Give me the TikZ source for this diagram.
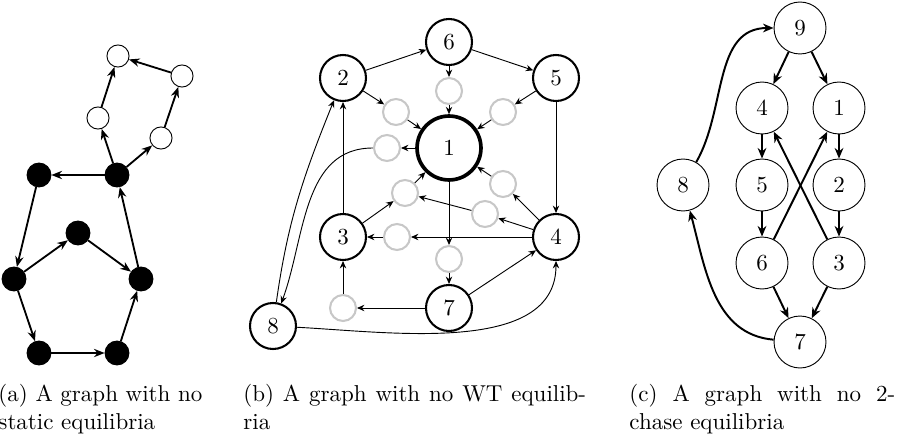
\documentclass[tikz,border=0pt]{standalone}
\usepackage{tikz}
\usetikzlibrary{arrows.meta, positioning}
\tikzset{
  blackdot/.style={circle, draw=black, fill=black, minimum size=10.4pt, inner sep=0pt},
  whitedot/.style={circle, draw=black, fill=white, line width=0.4pt, minimum size=9.6pt, inner sep=0pt},
  aedge/.style={-{Stealth[length=4.6pt,width=3.6pt]}, line width=0.8pt},
  bnode/.style={circle, draw=black, line width=0.9pt, minimum size=20pt, inner sep=0pt},
  bbig/.style={bnode, line width=1.6pt, minimum size=27.8pt},
  ghost/.style={circle, draw=black!22, line width=0.9pt, minimum size=11.3pt, inner sep=0pt},
  bedge/.style={-{Stealth[length=3.2pt,width=2.8pt]}, line width=0.4pt},
  cnode/.style={circle, draw=black, line width=0.4pt, minimum size=22.6pt, inner sep=0pt},
  cedge/.style={-{Stealth[length=4.6pt,width=3.8pt]}, line width=0.85pt},
  capt/.style={anchor=north west, inner sep=0pt, align=justify},
}
\begin{document}
\begin{tikzpicture}[x=0.4348pt, y=0.4348pt]
  \useasboundingbox (0,0) rectangle (901,-438);

  % (a)
  \node[whitedot] (w1) at (118,-56) {};
  \node[whitedot] (w2) at (182,-76) {};
  \node[whitedot] (w3) at (98,-118) {};
  \node[whitedot] (w4) at (161,-138) {};
  \node[blackdot] (k1) at (117,-175) {};
  \node[blackdot] (k2) at (39,-175) {};
  \node[blackdot] (k3) at (78,-233) {};
  \node[blackdot] (k4) at (14,-279) {};
  \node[blackdot] (k5) at (141,-279) {};
  \node[blackdot] (k6) at (39,-353) {};
  \node[blackdot] (k7) at (117,-353) {};
  \foreach \s/\t in {k1/k2, k2/k4, k4/k3, k3/k5, k4/k6, k6/k7, k7/k5, k5/k1,
                     k1/w3, k1/w4, w3/w1, w4/w2, w2/w1}
    \draw[aedge] (\s) -- (\t);

  % (b)
  \node[bnode] (n6) at (449,-42) {6};
  \node[bnode] (n2) at (343,-78) {2};
  \node[bnode] (n5) at (556,-78) {5};
  \node[bbig]  (n1) at (449,-148) {1};
  \node[bnode] (n3) at (343,-237) {3};
  \node[bnode] (n4) at (556,-237) {4};
  \node[bnode] (n7) at (449,-308) {7};
  \node[bnode] (n8) at (273,-326) {8};
  \node[ghost] (g6) at (449,-91) {};
  \node[ghost] (g2) at (396,-112) {};
  \node[ghost] (g5) at (503,-112) {};
  \node[ghost] (gl) at (387,-148) {};
  \node[ghost] (gll) at (405,-193) {};
  \node[ghost] (glr) at (503,-184) {};
  \node[ghost] (g4) at (485,-214) {};
  \node[ghost] (g3) at (397,-237) {};
  \node[ghost] (g1) at (449,-259) {};
  \node[ghost] (g7) at (343,-308) {};
  \foreach \s/\t in {n2/n6, n6/n5, n6/g6, g6/n1, n2/g2, g2/n1, n5/g5, g5/n1,
                     n1/gl, n1/g1, g1/n7, n3/n2, n3/gll, gll/n1, n4/g3, g3/n3,
                     n4/g4, g4/gll, n4/glr, glr/n1, n5/n4, n7/n4, n7/g7, g7/n3}
    \draw[bedge] (\s) -- (\t);
  \draw[bedge] (gl) to[out=180, in=70] (n8);
  \draw[bedge] (n8) to[out=82, in=248] (n2);
  \draw[bedge] (n8) to[out=-3, in=-90, looseness=0.9] (n4);

  % (c)
  \node[cnode] (c9) at (800,-28) {9};
  \node[cnode] (c4) at (762,-108) {4};
  \node[cnode] (c1) at (839,-108) {1};
  \node[cnode] (c5) at (762,-185) {5};
  \node[cnode] (c2) at (839,-185) {2};
  \node[cnode] (c6) at (762,-263) {6};
  \node[cnode] (c3) at (839,-263) {3};
  \node[cnode] (c7) at (800,-342) {7};
  \node[cnode] (c8) at (683,-185) {8};
  \foreach \s/\t in {c9/c4, c9/c1, c4/c5, c5/c6, c1/c2, c2/c3, c6/c1, c3/c4, c6/c7, c3/c7}
    \draw[cedge] (\s) -- (\t);
  \draw[cedge] (c7) to[out=175, in=-75] (c8);
  \draw[cedge] (c8) to[out=60, in=180] (c9);

  % captions
  \node[capt, text width=88.7pt] (capa) at (-2,-384)
    {(a) A graph with no\linebreak static equilibria};
  \node[capt, text width=149pt] (capb) at (243,-384)
    {(b) A graph with no WT equilib-\linebreak ria};
  \node[capt, text width=115.6pt] (capc) at (629,-384)
    {(c) A graph with no 2-\linebreak chase equilibria};
\end{tikzpicture}
\end{document}
